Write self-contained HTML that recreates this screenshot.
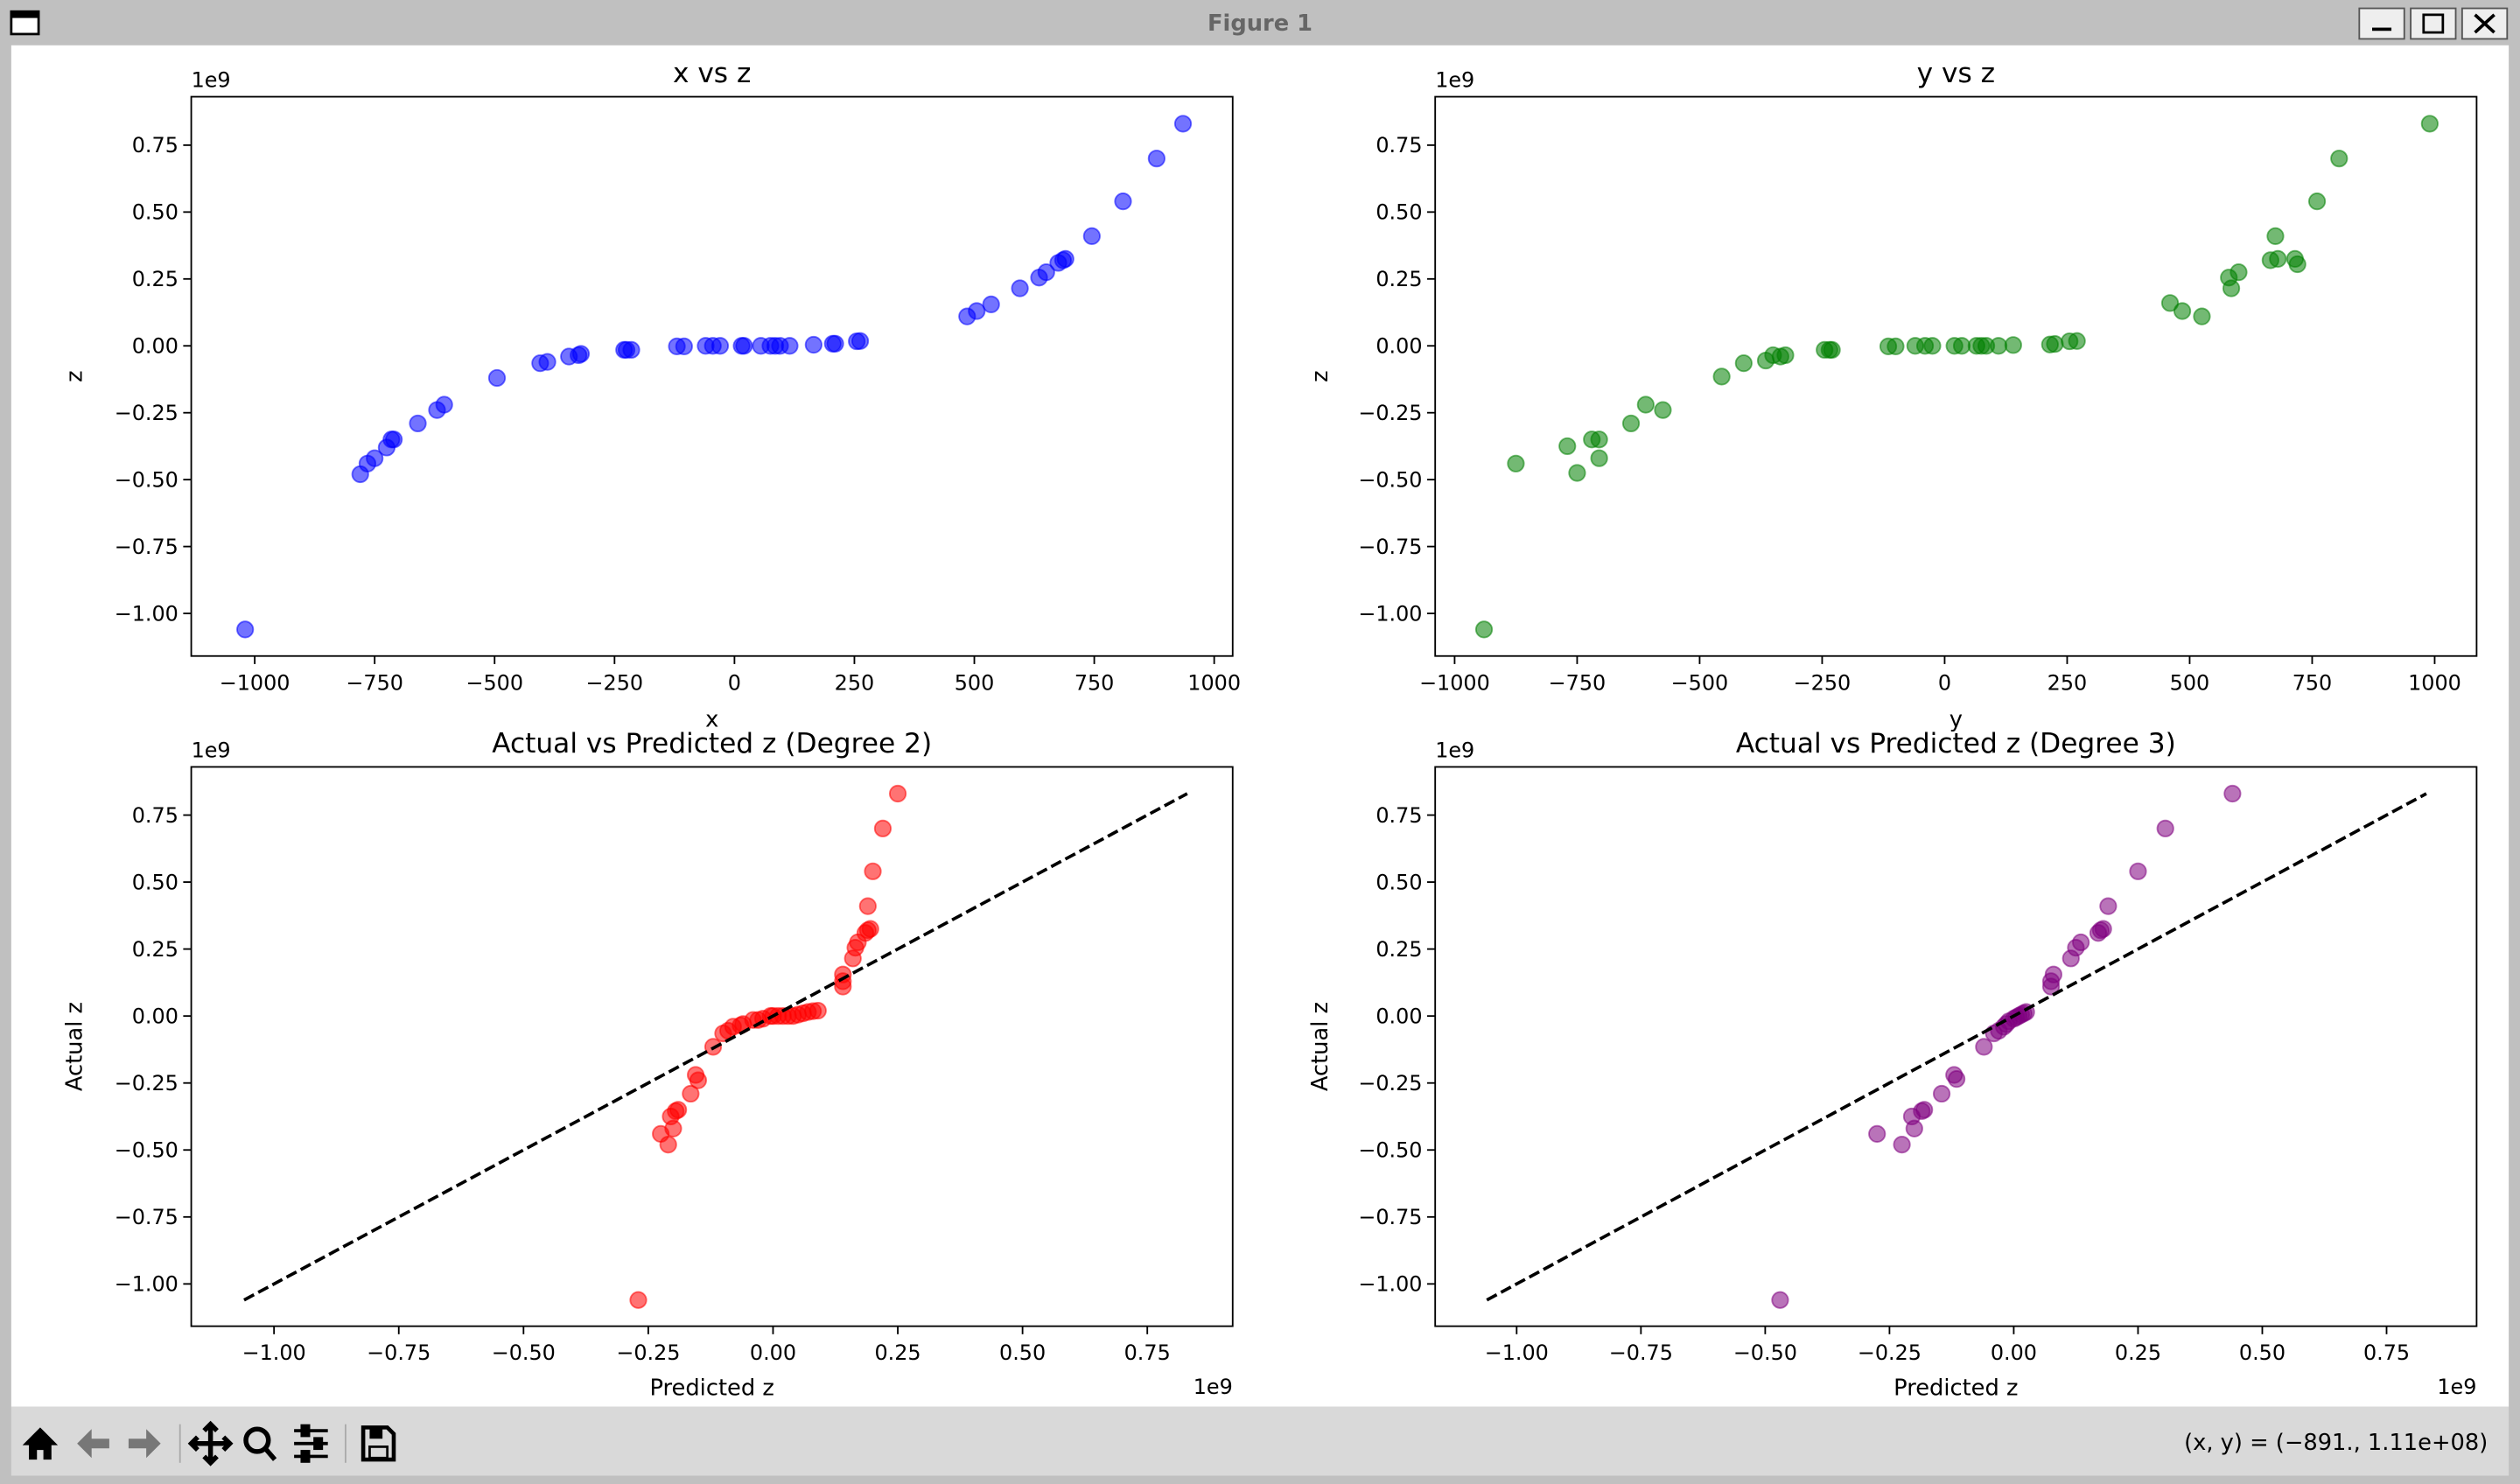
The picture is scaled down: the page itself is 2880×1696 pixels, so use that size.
<!DOCTYPE html>
<html><head><meta charset="utf-8"><style>
html,body{margin:0;padding:0;background:#c0c0c0;}
svg{display:block;font-family:"DejaVu Sans","Liberation Sans",sans-serif;}
</style></head><body>
<svg id="fig" width="2880" height="1696" viewBox="0 0 1568 923" xmlns="http://www.w3.org/2000/svg">
<rect x="0" y="0" width="1568" height="923" fill="#c0c0c0"/>
<g>
<rect x="7" y="7" width="17" height="14" fill="#fff" stroke="#000" stroke-width="1.5"/>
<rect x="7" y="7" width="17" height="4" fill="#000"/>
<text x="784" y="19" text-anchor="middle" font-size="14" font-weight="bold" fill="#666">Figure 1</text>
<g><rect x="1468" y="5" width="28" height="19" fill="#eee" stroke="#555"/><rect x="1476" y="17" width="12" height="2" fill="#000"/></g>
<g><rect x="1500" y="5" width="28" height="19" fill="#eee" stroke="#555"/><rect x="1508" y="9" width="12" height="11" fill="none" stroke="#000" stroke-width="1.5"/></g>
<g><rect x="1532" y="5" width="28" height="19" fill="#eee" stroke="#555"/><path d="M1540 9 L1552 20 M1552 9 L1540 20" stroke="#000" stroke-width="2"/></g>
</g>
<rect x="7" y="28" width="1554" height="847" fill="#fff"/>
<g>
<rect x="7" y="875" width="1554" height="43" fill="#d9d9d9"/>
<path d="M14 899 L25 888 L36 899 L32 899 L32 908 L27 908 L27 902 L23 902 L23 908 L18 908 L18 899 Z" fill="#000"/>
<path d="M48 898 L57 889 L57 895 L68 895 L68 901 L57 901 L57 907 Z" fill="#777"/>
<path d="M100 898 L91 889 L91 895 L80 895 L80 901 L91 901 L91 907 Z" fill="#777"/>
<line x1="112" y1="886" x2="112" y2="910" stroke="#aaa"/>
<path d="M131 886 L131 910 M119 898 L143 898 M127 890 L131 886 L135 890 M127 906 L131 910 L135 906 M123 894 L119 898 L123 902 M139 894 L143 898 L139 902" stroke="#000" stroke-width="3" fill="none"/>
<g><circle cx="160" cy="896" r="7" fill="none" stroke="#000" stroke-width="3"/><line x1="165" y1="901" x2="171" y2="908" stroke="#000" stroke-width="3"/></g>
<g stroke="#000" stroke-width="2"><line x1="183" y1="890" x2="204" y2="890"/><line x1="183" y1="898" x2="204" y2="898"/><line x1="183" y1="906" x2="204" y2="906"/><rect x="188" y="887" width="4" height="6" fill="#000"/><rect x="196" y="895" width="4" height="6" fill="#000"/><rect x="188" y="903" width="4" height="6" fill="#000"/></g>
<line x1="215" y1="886" x2="215" y2="910" stroke="#aaa"/>
<g><path d="M226 888 L241 888 L245 892 L245 908 L226 908 Z" fill="none" stroke="#000" stroke-width="2.5"/><rect x="230" y="889" width="8" height="6" fill="#000"/><rect x="230" y="900" width="11" height="7" fill="none" stroke="#000" stroke-width="1.5"/></g>
<text x="1548" y="902" text-anchor="end" font-size="14">(x, y) = (−891., 1.11e+08)</text>
</g>
<g id="plots"></g>
</svg>
<script>
// Top-left: x vs z
const xvals = [-1020,-780,-765,-750,-725,-715,-710,-660,-620,-605,-495,-405,-390,-345,-325,-320,-230,-225,-215,-120,-105,-60,-45,-30,15,20,55,75,85,95,115,165,205,210,255,262,485,505,535,595,635,650,675,685,690,745,810,880,935];
const zForX = [-1.06,-0.48,-0.44,-0.42,-0.38,-0.35,-0.35,-0.29,-0.24,-0.22,-0.12,-0.065,-0.06,-0.04,-0.035,-0.03,-0.015,-0.015,-0.015,-0.002,-0.002,0,0,0,0,0,0,0,0,0,0,0.004,0.008,0.008,0.017,0.018,0.11,0.13,0.155,0.215,0.255,0.275,0.31,0.32,0.325,0.41,0.54,0.70,0.83];
// Top-right: y vs z
const yvals = [-940,-875,-770,-750,-720,-705,-705,-640,-610,-575,-455,-410,-365,-350,-335,-325,-245,-235,-230,-115,-100,-60,-40,-25,20,35,65,75,85,110,140,215,225,255,270,460,485,525,580,585,600,665,675,680,715,720,760,805,990];
const zForY = [-1.06,-0.44,-0.375,-0.475,-0.35,-0.35,-0.42,-0.29,-0.22,-0.24,-0.115,-0.065,-0.055,-0.035,-0.04,-0.035,-0.015,-0.015,-0.015,-0.002,-0.002,0,0,0,0,0,0,0,0,0,0.003,0.005,0.007,0.017,0.018,0.16,0.13,0.11,0.255,0.215,0.275,0.32,0.41,0.325,0.325,0.305,0.54,0.70,0.83];
// Bottom-left: degree 2
const pred2 = [-0.27,-0.225,-0.21,-0.20,-0.205,-0.19,-0.195,-0.165,-0.155,-0.15,-0.12,-0.10,-0.09,-0.08,-0.065,-0.06,-0.04,-0.03,-0.02,-0.005,0,0.01,0.02,0.03,0.04,0.05,0.06,0.07,0.08,0.09,0.14,0.14,0.14,0.16,0.165,0.17,0.185,0.19,0.195,0.19,0.20,0.22,0.25];
const act2 = [-1.06,-0.44,-0.48,-0.42,-0.375,-0.35,-0.355,-0.29,-0.22,-0.24,-0.115,-0.065,-0.055,-0.04,-0.035,-0.03,-0.015,-0.015,-0.01,0,0,0,0,0,0,0.005,0.01,0.015,0.018,0.02,0.11,0.13,0.155,0.215,0.255,0.275,0.31,0.32,0.325,0.41,0.54,0.70,0.83];
// Bottom-right: degree 3
const pred3 = [-0.47,-0.275,-0.225,-0.205,-0.20,-0.18,-0.185,-0.145,-0.12,-0.115,-0.06,-0.04,-0.03,-0.02,-0.015,-0.01,0,0.005,0.01,0.015,0.02,0.025,0.075,0.075,0.08,0.115,0.125,0.135,0.17,0.175,0.18,0.19,0.25,0.305,0.44];
const act3 = [-1.06,-0.44,-0.48,-0.375,-0.42,-0.35,-0.355,-0.29,-0.22,-0.235,-0.115,-0.065,-0.055,-0.04,-0.03,-0.02,-0.01,-0.005,0,0.005,0.01,0.015,0.11,0.13,0.155,0.215,0.255,0.275,0.31,0.32,0.325,0.41,0.54,0.70,0.83];
const refLine = [-1.06, 0.83];
const zTicks = [0.75,0.50,0.25,0.00,-0.25,-0.50,-0.75,-1.00];
const zTickLabels = ["0.75","0.50","0.25","0.00","−0.25","−0.50","−0.75","−1.00"];
const xyTicks = [-1000,-750,-500,-250,0,250,500,750,1000];
const xyTickLabels = ["−1000","−750","−500","−250","0","250","500","750","1000"];
const predTicks = [-1.00,-0.75,-0.50,-0.25,0.00,0.25,0.50,0.75];
const predTickLabels = ["−1.00","−0.75","−0.50","−0.25","0.00","0.25","0.50","0.75"];

const NS="http://www.w3.org/2000/svg";
const root=document.getElementById('plots');
function mk(tag,attrs,parent,text){const e=document.createElementNS(NS,tag);for(const k in attrs)e.setAttribute(k,attrs[k]);if(text!==undefined)e.textContent=text;parent.appendChild(e);return e;}

function panel(cfg){
  const g=mk('g',{},root);
  
  
  const L=cfg.left,R=cfg.right,T=cfg.top,B=cfg.bottom;
  const sx=v=>cfg.x0+v*cfg.xs, sy=v=>cfg.y0-v*cfg.ys;
  // points
  const pts=mk('g',{},g);
  
  
  for(let i=0;i<cfg.xs_data.length;i++){
    const c=mk('circle',{cx:sx(cfg.xs_data[i]),cy:sy(cfg.ys_data[i]),r:5,fill:cfg.color,'fill-opacity':0.55,stroke:cfg.color,'stroke-opacity':0.55,'stroke-width':1},pts);
    
    
  }
  if(cfg.ref){
    const l=mk('line',{x1:sx(refLine[0]),y1:sy(refLine[0]),x2:sx(refLine[1]),y2:sy(refLine[1]),stroke:'#000','stroke-width':2,'stroke-dasharray':'7,3'},g);
    
    
  }
  const fr=mk('rect',{x:L,y:T,width:R-L,height:B-T,fill:'none',stroke:'#000','stroke-width':1},g);
  
  
  const ya=mk('g',{},g);
  
  
  zTicks.forEach((v,i)=>{const y=sy(v);mk('line',{x1:L-5,y1:y,x2:L,y2:y,stroke:'#000'},ya);
    const t=mk('text',{x:L-8,y:y+4.5,'text-anchor':'end','font-size':13},ya,zTickLabels[i]);
    
    });
  const xa=mk('g',{},g);
  
  
  cfg.xt.forEach((v,i)=>{const x=sx(v);mk('line',{x1:x,y1:B,x2:x,y2:B+5,stroke:'#000'},xa);
    const t=mk('text',{x:x,y:B+21,'text-anchor':'middle','font-size':13},xa,cfg.xtl[i]);
    
    });
  const ti=mk('text',{x:(L+R)/2,y:T-9,'text-anchor':'middle','font-size':17},g,cfg.title);
  
  
  const off=mk('text',{x:L,y:T-6,'font-size':13},g,'1e9');
  
  
  const xl=mk('text',{x:(L+R)/2,y:B+cfg.xlabY,'text-anchor':'middle','font-size':14},g,cfg.xlab);
  
  
  const yx=cfg.ylabX, ym=(T+B)/2;
  const yl=mk('text',{x:yx,y:ym,'text-anchor':'middle','font-size':14,transform:`rotate(-90 ${yx} ${ym})`},g,cfg.ylab);
  
  
  if(cfg.xoff){const xo=mk('text',{x:R,y:B+42,'text-anchor':'end','font-size':13},g,'1e9');
    
    }
}
panel({name:'x-vs-z-panel',left:119,right:767,top:60,bottom:408,x0:457,xs:0.2985,y0:215,ys:166.5,xs_data:xvals,ys_data:zForX,color:'#0000ff',xt:xyTicks,xtl:xyTickLabels,title:'x vs z',xlab:'x',ylab:'z',xlabY:44,ylabX:51});
panel({name:'y-vs-z-panel',left:893,right:1541,top:60,bottom:408,x0:1210,xs:0.3049,y0:215,ys:166.5,xs_data:yvals,ys_data:zForY,color:'#008000',xt:xyTicks,xtl:xyTickLabels,title:'y vs z',xlab:'y',ylab:'z',xlabY:44,ylabX:826});
panel({name:'degree2-panel',left:119,right:767,top:477,bottom:825,x0:481,xs:310.5,y0:632,ys:166.7,xs_data:pred2,ys_data:act2,color:'#ff0000',xt:predTicks,xtl:predTickLabels,title:'Actual vs Predicted z (Degree 2)',xlab:'Predicted z',ylab:'Actual z',xlabY:43,ylabX:51,ref:true,xoff:true});
panel({name:'degree3-panel',left:893,right:1541,top:477,bottom:825,x0:1253,xs:309.3,y0:632,ys:166.7,xs_data:pred3,ys_data:act3,color:'#800080',xt:predTicks,xtl:predTickLabels,title:'Actual vs Predicted z (Degree 3)',xlab:'Predicted z',ylab:'Actual z',xlabY:43,ylabX:826,ref:true,xoff:true});
</script>
</body></html>
